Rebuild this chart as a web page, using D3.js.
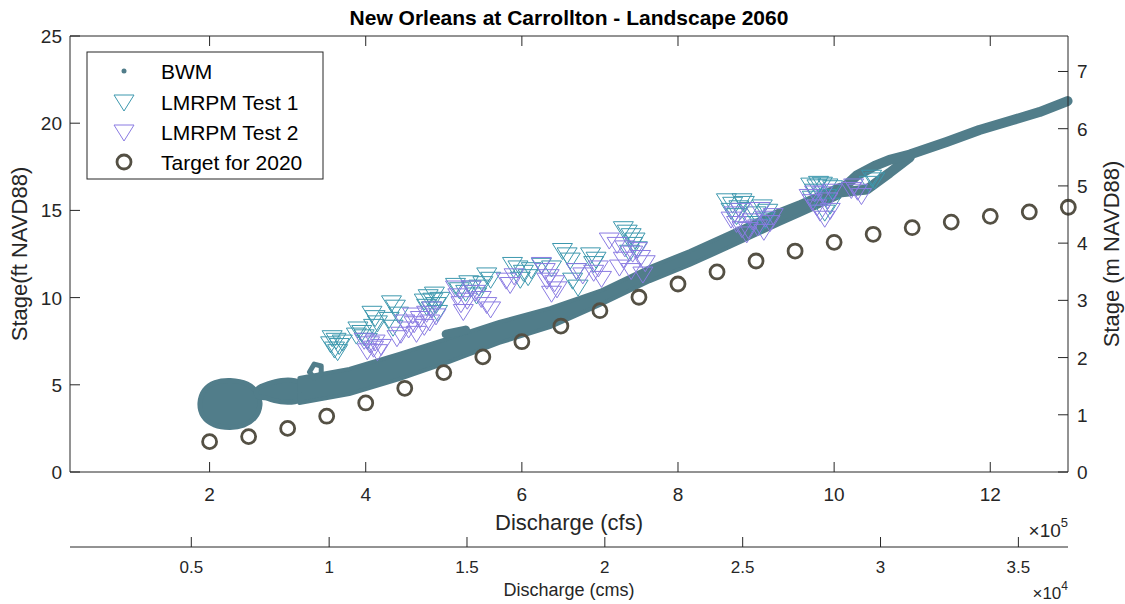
<!DOCTYPE html>
<html>
<head>
<meta charset="utf-8">
<script src="https://cdn.jsdelivr.net/npm/d3@7"></script>
<style>
body { margin: 0; background: #fff; }
svg { display: block; font-family: "Liberation Sans", Arial, Helvetica, sans-serif; }
</style>
</head>
<body>
<div id="chart"></div>
<script>
// discharge in 1e5 cfs, stage in ft
// BWM is a dense cloud of points; read here as its outline
const bwmBandQ = [3.15,3.79,4.43,5.07,5.71,6.36,7.00,7.64,8.15,8.66,9.30,9.56,10.07];
const bwmBandTop = [5.39,5.91,6.77,7.68,8.60,9.40,10.38,11.75,12.67,13.70,15.02,15.48,16.46];
const bwmBandBottom = [3.96,4.47,5.33,6.31,7.40,8.31,9.58,10.95,11.87,12.90,14.22,14.74,15.77];
const bwmUpper = [[10.07,16.10],[10.29,17.00],[10.52,17.55],[10.71,17.90],[10.97,18.20],[11.44,18.92],
  [11.86,19.61],[12.29,20.18],[12.63,20.64],[12.99,21.27]];
const bwmLower = [[10.07,16.02],[10.42,16.20],[10.71,17.15],[10.97,18.05]];
const bwmBlob1 = [[2.26,5.30],[2.50,5.10],[2.63,4.53],[2.66,3.84],[2.60,3.10],[2.44,2.62],[2.26,2.52],
  [2.05,2.64],[1.90,3.15],[1.86,3.96],[1.92,4.75],[2.06,5.18]];
const bwmBlob2 = [[2.59,4.82],[2.74,5.05],[2.92,5.28],[3.10,5.28],[3.23,4.99],[3.26,4.53],[3.18,4.07],
  [3.00,3.96],[2.82,4.07],[2.72,4.30],[2.59,4.24]];
const bwmSmallLoop = [[3.28,5.73],[3.34,6.19],[3.43,6.08],[3.43,5.62],[3.34,5.39],[3.28,5.73]];
const bwmBump = [[5.03,7.91],[5.28,8.14]];

const test1 = [
  [3.57,7.70],[3.62,7.55],[3.55,7.35],[3.66,7.25],[3.60,7.05],[3.70,7.45],[3.64,6.90],
  [3.90,8.20],[3.95,8.00],[3.98,7.75],[4.02,7.55],[3.88,7.85],[4.08,9.10],[4.12,8.85],[4.15,8.55],[4.10,8.35],
  [4.33,9.70],[4.38,9.45],[4.30,8.75],[4.35,8.30],[4.42,9.05],
  [4.80,10.05],[4.86,9.85],[4.90,9.60],[4.84,9.35],[4.92,9.15],[4.78,9.50],[4.75,9.80],[4.95,9.90],[4.88,10.20],
  [5.15,10.70],[5.20,10.45],[5.28,10.30],[5.35,10.55],[5.42,10.15],[5.55,11.30],[5.60,11.05],[5.50,10.80],
  [5.32,10.85],[5.45,10.60],
  [5.88,11.90],[5.95,11.70],[6.02,11.45],[6.08,11.20],[6.12,11.60],[5.98,11.05],
  [6.25,11.85],[6.38,11.70],[6.52,12.70],[6.58,12.45],[6.62,12.15],[6.70,11.55],[6.65,11.00],[6.72,10.60],
  [6.88,12.45],[6.95,12.20],[6.92,11.95],
  [7.30,13.95],[7.35,13.75],[7.40,13.55],[7.45,13.30],[7.42,13.05],[7.48,12.80],[7.38,12.60],
  [8.62,15.55],[8.70,15.35],[8.78,15.15],[8.85,15.40],[8.92,15.05],[9.00,14.80],[9.08,15.20],[9.12,14.45],
  [8.75,14.70],[8.95,14.25],[9.05,14.10],[8.82,15.55],[9.15,14.95],[8.68,15.00],
  [9.70,16.45],[9.78,16.35],[9.85,16.50],[9.92,16.40],[9.98,16.30],[9.75,16.10],[9.90,15.80],[9.95,15.30],[9.88,14.90],
  [9.80,16.55],[9.72,15.70],
  [10.48,16.90],[10.52,16.75],[10.45,16.55]
];
const test2 = [
  [3.98,7.55],[4.05,7.35],[4.10,7.10],[4.15,6.90],[4.02,6.95],[4.12,7.45],[4.20,7.20],
  [4.40,7.70],[4.45,7.90],[4.55,8.20],[4.62,8.50],[4.70,8.80],[4.78,9.10],[4.85,9.35],[4.90,8.95],[4.65,7.95],[4.75,8.35],
  [4.50,8.60],[4.60,9.00],[4.82,8.60],
  [5.15,10.55],[5.18,10.10],[5.22,9.65],[5.25,9.20],[5.40,10.30],[5.48,9.95],[5.55,9.60],[5.60,9.35],
  [5.30,9.85],[5.35,10.55],
  [5.80,11.00],[5.85,10.75],[5.90,11.25],
  [6.25,11.90],[6.30,11.55],[6.35,11.20],[6.42,10.85],[6.45,10.50],[6.38,10.25],[6.32,11.00],
  [6.70,11.55],[6.78,11.30],[6.92,11.45],[7.02,11.10],[6.98,11.70],
  [7.12,13.30],[7.22,13.05],[7.32,12.85],[7.42,12.55],[7.52,12.30],[7.58,12.00],[7.30,12.20],[7.25,11.75],
  [7.40,11.55],[7.55,11.35],[7.48,12.75],
  [8.68,14.50],[8.75,14.25],[8.82,13.95],[8.88,13.65],[8.95,14.40],[9.02,14.05],[9.10,13.80],[9.18,14.30],
  [9.22,14.70],[8.80,15.00],[9.05,15.05],[8.72,14.80],[9.12,14.55],[8.90,13.90],
  [9.68,15.80],[9.72,15.50],[9.78,15.20],[9.82,14.90],[9.88,14.55],[9.92,15.60],[9.98,16.10],[9.85,15.95],
  [9.75,16.00],[9.95,15.00],
  [10.25,16.40],[10.30,16.10],[10.35,15.85],[10.22,16.20]
];
const targetQ = [2,2.5,3,3.5,4,4.5,5,5.5,6,6.5,7,7.5,8,8.5,9,9.5,10,10.5,11,11.5,12,12.5,13];
const targetStage = [1.74,2.03,2.5,3.2,3.96,4.8,5.7,6.6,7.47,8.37,9.25,10.02,10.78,11.47,12.1,12.67,
  13.17,13.63,14.01,14.33,14.66,14.91,15.18];

const xTicks = [2,4,6,8,10,12];
const yTicks = [0,5,10,15,20,25];
const yRightTicks = [0,1,2,3,4,5,6,7];
const cmsTicks = [0.5,1,1.5,2,2.5,3,3.5];
const legendNames = ["BWM","LMRPM Test 1","LMRPM Test 2","Target for 2020"];

const CFS_PER_CMS = 35.3147, FT_PER_M = 3.28084;
const width = 1125, height = 604;
const margin = { top: 36, right: 57, bottom: 132, left: 70 };
const axisColor = "#262626";
const cBWM = "#517d8a", cT1 = "#3d98ae", cT2 = "#8a7be2", cTarget = "#545044";

const svg = d3.select("#chart").append("svg")
  .attr("width", width).attr("height", height);

// cms axis domain 600..36800 cms, converted to 1e5 cfs
const cmsDomain = [0.06, 3.68];
const x = d3.scaleLinear()
  .domain(cmsDomain.map(v => v * 1e4 * CFS_PER_CMS / 1e5))
  .range([margin.left, width - margin.right]);
const xc = d3.scaleLinear().domain(cmsDomain).range(x.range());
const y = d3.scaleLinear().domain([0, 25]).range([height - margin.bottom, margin.top]);
const yr = d3.scaleLinear().domain([0, 25 / FT_PER_M]).range(y.range());

const x0 = x.range()[0], x1 = x.range()[1], y0 = y.range()[0], y1 = y.range()[1];

// BWM band
const line = d3.line().x(d => x(d[0])).y(d => y(d[1]));
const closed = d3.line().x(d => x(d[0])).y(d => y(d[1])).curve(d3.curveBasisClosed);
const area = d3.area()
  .x((d, i) => x(bwmBandQ[i]))
  .y0((d, i) => y(bwmBandBottom[i]))
  .y1((d, i) => y(bwmBandTop[i]));
const bwm = svg.append("g").attr("fill", cBWM).attr("stroke", cBWM)
  .attr("stroke-linejoin", "round").attr("stroke-linecap", "round");
bwm.append("path").attr("d", closed(bwmBlob1)).attr("stroke-width", 5);
bwm.append("path").attr("d", closed(bwmBlob2)).attr("stroke-width", 5);
bwm.append("path").attr("d", area(bwmBandQ)).attr("stroke-width", 4);
[[bwmSmallLoop, 5], [bwmBump, 9], [bwmLower, 10], [bwmUpper, 10]].forEach(([pts, w]) => {
  bwm.append("path").attr("d", line(pts)).attr("fill", "none").attr("stroke-width", w);
});

const tri = "M-10,-7L10,-7L0,9Z";
function triangles(data, color) {
  svg.append("g").selectAll("path").data(data).join("path")
    .attr("transform", d => `translate(${x(d[0])},${y(d[1])})`)
    .attr("d", tri).attr("fill", "none").attr("stroke", color).attr("stroke-width", 1);
}
triangles(test1, cT1);
triangles(test2, cT2);

svg.append("g").selectAll("circle").data(targetQ).join("circle")
  .attr("cx", d => x(d)).attr("cy", (d, i) => y(targetStage[i])).attr("r", 7)
  .attr("fill", "none").attr("stroke", cTarget).attr("stroke-width", 2.8);

// axes
const ax = svg.append("g").attr("font-size", 19).attr("fill", axisColor);
ax.append("path").attr("d", `M${x0},${y1}V${y0}H${x1}V${y1}H${x0}`)
  .attr("fill", "none").attr("stroke", axisColor).attr("stroke-width", 1);

xTicks.forEach(t => {
  ax.append("path").attr("d", `M${x(t)},${y0}v-10M${x(t)},${y1}v10`).attr("stroke", axisColor);
  ax.append("text").attr("x", x(t)).attr("y", y0 + 29).attr("text-anchor", "middle").text(t);
});
yTicks.forEach(t => {
  ax.append("path").attr("d", `M${x0},${y(t)}h10`).attr("stroke", axisColor);
  ax.append("text").attr("x", x0 - 8).attr("y", y(t) + 7).attr("text-anchor", "end").text(t);
});
yRightTicks.forEach(t => {
  ax.append("path").attr("d", `M${x1},${yr(t)}h-10`).attr("stroke", axisColor);
  ax.append("text").attr("x", x1 + 9).attr("y", yr(t) + 7).attr("text-anchor", "start").text(t);
});

const ex5 = ax.append("text").attr("x", x1).attr("y", y0 + 65).attr("text-anchor", "end");
ex5.append("tspan").text("\u00d710");
ex5.append("tspan").attr("font-size", 13).attr("dy", -10).text("5");

ax.append("text").attr("x", (x0 + x1) / 2).attr("y", y0 + 58).attr("text-anchor", "middle")
  .attr("font-size", 22).text("Discharge (cfs)");
ax.append("text").attr("transform", `translate(27,${(y0 + y1) / 2}) rotate(-90)`)
  .attr("text-anchor", "middle").attr("font-size", 22).text("Stage(ft NAVD88)");
ax.append("text").attr("transform", `translate(1119,${(y0 + y1) / 2}) rotate(-90)`)
  .attr("text-anchor", "middle").attr("font-size", 22).text("Stage (m NAVD88)");

ax.append("text").attr("x", (x0 + x1) / 2).attr("y", 25).attr("text-anchor", "middle")
  .attr("font-size", 21).attr("font-weight", "bold").attr("fill", "#000")
  .text("New Orleans at Carrollton - Landscape 2060");

// second x axis (cms)
const cy = 547;
const ax2 = svg.append("g").attr("font-size", 17).attr("fill", axisColor);
ax2.append("path").attr("d", `M${x0},${cy}H${x1}`).attr("stroke", axisColor);
cmsTicks.forEach(t => {
  ax2.append("path").attr("d", `M${xc(t)},${cy}v-10`).attr("stroke", axisColor);
  ax2.append("text").attr("x", xc(t)).attr("y", cy + 26).attr("text-anchor", "middle").text(t);
});
ax2.append("text").attr("x", (x0 + x1) / 2).attr("y", 596).attr("text-anchor", "middle")
  .attr("font-size", 18).text("Discharge (cms)");
const ex4 = ax2.append("text").attr("x", x1).attr("y", 599).attr("text-anchor", "end");
ex4.append("tspan").text("\u00d710");
ex4.append("tspan").attr("font-size", 12).attr("dy", -9).text("4");

// legend
const lg = svg.append("g").attr("font-size", 21);
lg.append("rect").attr("x", 87).attr("y", 52).attr("width", 236).attr("height", 127)
  .attr("fill", "#fff").attr("stroke", axisColor).attr("stroke-width", 1);
const rowY = [71, 102, 132, 162];
legendNames.forEach((name, i) => {
  const g = lg.append("g").attr("transform", `translate(124,${rowY[i]})`);
  if (i === 0) g.append("circle").attr("r", 2.5).attr("fill", cBWM);
  else if (i === 3) g.append("circle").attr("r", 7).attr("fill", "none").attr("stroke", cTarget).attr("stroke-width", 2.8);
  else g.append("path").attr("d", tri).attr("fill", "none").attr("stroke", i === 1 ? cT1 : cT2);
  lg.append("text").attr("x", 161).attr("y", rowY[i] + 8).attr("fill", "#000").text(name);
});
</script>
</body>
</html>
